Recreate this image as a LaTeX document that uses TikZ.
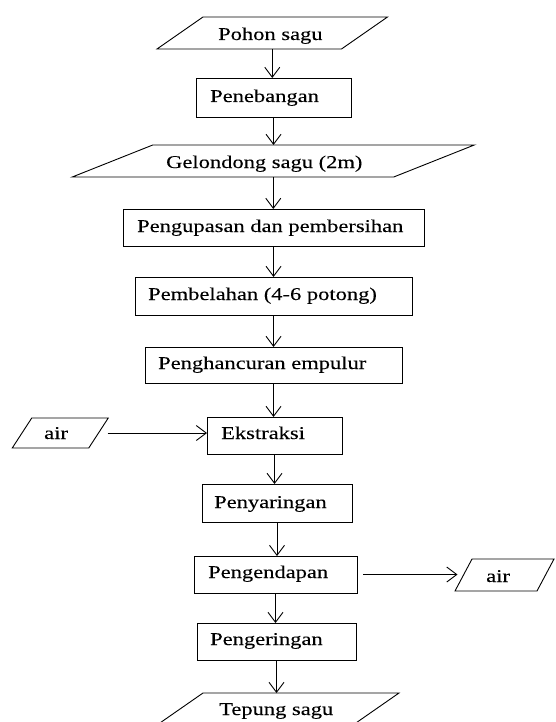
\documentclass[tikz,border=0pt]{standalone}
\usepackage{fontspec}
\setmainfont[FakeStretch=1.25,FakeBold=0.1]{Liberation Serif}
\usetikzlibrary{arrows.meta,calc}
\tikzset{
  box/.style={draw, line width=0.9pt, inner sep=0pt, outer sep=0pt},
  pbox/.style={draw=none, inner sep=0pt, outer sep=0pt},
  txt/.style={anchor=base west, inner sep=0pt, font=\fontsize{18}{20}\selectfont},
  arr/.style={line width=0.9pt, -{Straight Barb[length=10pt,width=15pt,line width=0.9pt]}},
  pline/.style={line width=0.9pt}
}
\newcommand\paral[2]{\draw[pline] ([xshift={0.5*#2pt}]#1.north west) -- ([xshift={0.5*#2pt}]#1.north east) -- ([xshift={-0.5*#2pt}]#1.south east) -- ([xshift={-0.5*#2pt}]#1.south west) -- cycle;}
\begin{document}
\begin{tikzpicture}[x=1pt,y=-1pt]
\useasboundingbox (0,0) rectangle (556,722);
\clip (0,0) rectangle (556,722);
% parallelograms
\node[pbox, minimum width=184.5pt, minimum height=32pt] (p1) at (272.25,33) {};
\paral{p1}{46}
\node[pbox, minimum width=321.5pt, minimum height=32pt] (p2) at (273.25,161) {};
\paral{p2}{80.5}
\node[pbox, minimum width=76.5pt, minimum height=30pt] (pl) at (60.25,433) {};
\paral{pl}{19.5}
\node[pbox, minimum width=82pt, minimum height=32pt] (pr) at (504.5,575) {};
\paral{pr}{17}
\node[pbox, minimum width=196pt, minimum height=32pt] (p3) at (278,709) {};
\paral{p3}{46}
% boxes
\node[box, minimum width=155pt, minimum height=39pt] (b1) at (273.5,97.5) {};
\node[box, minimum width=301pt, minimum height=37pt] (b2) at (273.5,227.5) {};
\node[box, minimum width=277pt, minimum height=38pt] (b3) at (273.5,296) {};
\node[box, minimum width=257pt, minimum height=36pt] (b4) at (273.5,365) {};
\node[box, minimum width=135pt, minimum height=37pt] (b5) at (274.5,435.5) {};
\node[box, minimum width=150pt, minimum height=38pt] (b6) at (277,503) {};
\node[box, minimum width=163pt, minimum height=37pt] (b7) at (275.5,574.5) {};
\node[box, minimum width=159pt, minimum height=37pt] (b8) at (276.5,641.5) {};
% texts
\node[txt] (t1) at (218,40) {Pohon sagu};
\node[txt] (tb1) at (210,102) {Penebangan};
\node[txt] (t2) at (166,168) {Gelondong sagu (2m)};
\node[txt] (tb2) at (137,232) {Pengupasan dan pembersihan};
\node[txt] (tb3) at (148,300) {Pembelahan (4-6 potong)};
\node[txt] (tb4) at (158,369) {Penghancuran empulur};
\node[txt] (tb5) at (221,439) {Ekstraksi};
\node[txt] (tl) at (44,439) {air};
\node[txt] (tb6) at (214,508) {Penyaringan};
\node[txt] (tb7) at (208,578) {Pengendapan};
\node[txt] (tr) at (486,582) {air};
\node[txt] (tb8) at (210,645) {Pengeringan};
\node[txt] (t3) at (219,715) {Tepung sagu};
% connectors
\draw[arr] (p1.south) -- (p1.south |- b1.north);
\draw[arr] (b1.south) -- (b1.south |- p2.north);
\draw[arr] (p2.south) -- (p2.south |- b2.north);
\draw[arr] (b2.south) -- (b2.south |- b3.north);
\draw[arr] (b3.south) -- (b3.south |- b4.north);
\draw[arr] (b4.south) -- (b4.south |- b5.north);
\draw[arr] ([xshift=9pt]pl.east) -- (pl.east -| b5.west);
\draw[arr] (b5.south) -- (b5.south |- b6.north);
\draw[arr] (b6.south) -- (b6.south |- b7.north);
\draw[arr] ([xshift=6pt]b7.east) -- ([xshift=-6pt]b7.east -| pr.west);
\draw[arr] (b7.south) -- (b7.south |- b8.north);
\draw[arr] (b8.south) -- (b8.south |- p3.north);
\end{tikzpicture}
\end{document}
